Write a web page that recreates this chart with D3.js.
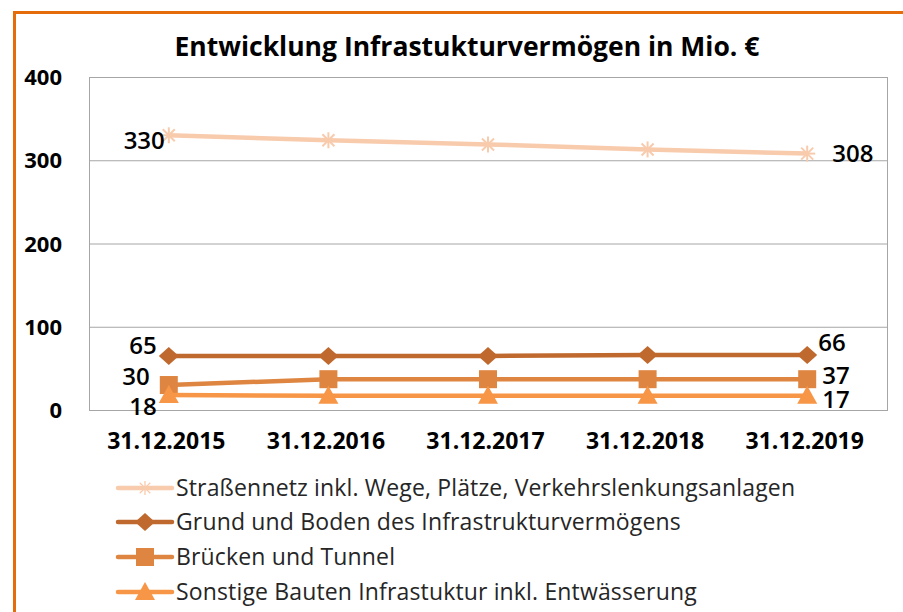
<!DOCTYPE html>
<html><head><meta charset="utf-8">
<script src="https://cdn.jsdelivr.net/npm/d3@7"></script>
<style>body{margin:0;background:#fff}svg{display:block}</style>
</head><body>
<svg id="c" width="903" height="612"></svg>
<script>
const categories = ["31.12.2015","31.12.2016","31.12.2017","31.12.2018","31.12.2019"];
const seriesNames = ["Straßennetz inkl. Wege, Plätze, Verkehrslenkungsanlagen","Grund und Boden des Infrastrukturvermögens","Brücken und Tunnel","Sonstige Bauten Infrastuktur inkl. Entwässerung"];
const strassen = [330, 324, 319, 313, 308];
const grund = [65, 65, 65, 66, 66];
const bruecken = [30, 37, 37, 37, 37];
const sonstige = [18, 17, 17, 17, 17];
const yTicks = [0, 100, 200, 300, 400];
const title = "Entwicklung Infrastukturvermögen in Mio. €";

const colors = ["#F8CBAD", "#C0692E", "#DE8641", "#F79646"];
const markers = ["star", "diamond", "square", "triangle"];
const data = [strassen, grund, bruecken, sonstige];

const svg = d3.select("#c");
const font = "'Open Sans', sans-serif";
const L = 89, R = 887, T = 77, B = 410;

// frame
svg.append("path").attr("d", "M14.5,612 L14.5,12.5 L903,12.5").attr("fill","none").attr("stroke","#E46C0A").attr("stroke-width",3);

const x = d3.scalePoint().domain(categories).range([L, R]).padding(0.5);
const y = d3.scaleLinear().domain([0, 400]).range([B, T]);

// gridlines
svg.append("g").selectAll("line").data(yTicks).join("line")
  .attr("x1", L).attr("x2", R).attr("y1", d => y(d)+0.5).attr("y2", d => y(d)+0.5)
  .attr("stroke", "#A6A6A6").attr("stroke-width", 1);
svg.append("rect").attr("x", L+0.5).attr("y", T+0.5).attr("width", R-L).attr("height", B-T)
  .attr("fill","none").attr("stroke","#A6A6A6");

// y axis labels
const yAxis = d3.axisLeft(y).tickValues(yTicks).tickSize(0).tickPadding(0);
const yg = svg.append("g").attr("transform", `translate(${L-27},0)`).call(yAxis);
yg.select(".domain").remove();
yg.selectAll("text").attr("font-family", font).attr("font-weight", "bold").attr("font-size", 22).attr("fill", "#000").attr("dy","0.35em");

// x axis labels
const xAxis = d3.axisBottom(x).tickSize(0).tickPadding(0);
const xg = svg.append("g").attr("transform", `translate(-3,${B+23})`).call(xAxis);
xg.select(".domain").remove();
xg.selectAll("text").attr("font-family", font).attr("font-weight", "bold").attr("font-size", 23).attr("fill", "#000").attr("dy","0.71em");

// title
svg.append("text").attr("x", 467).attr("y", 56).attr("text-anchor","middle")
  .attr("font-family", font).attr("font-weight","bold").attr("font-size", 26.5).attr("fill","#000").text(title);

function drawMarker(g, type, cx, cy, color, small) {
  if (type === "star") {
    const s = small ? 7 : 8;
    const p = g.append("g").attr("stroke", color).attr("stroke-width", small ? 1.3 : 2);
    p.append("line").attr("x1", cx - s).attr("x2", cx + s).attr("y1", cy).attr("y2", cy);
    p.append("line").attr("x1", cx).attr("x2", cx).attr("y1", cy - s).attr("y2", cy + s);
    p.append("line").attr("x1", cx - s*0.75).attr("x2", cx + s*0.75).attr("y1", cy - s*0.75).attr("y2", cy + s*0.75);
    p.append("line").attr("x1", cx - s*0.75).attr("x2", cx + s*0.75).attr("y1", cy + s*0.75).attr("y2", cy - s*0.75);
  } else if (type === "diamond") {
    const s = 10, h = 9;
    g.append("path").attr("d", `M${cx},${cy-h} L${cx+s},${cy} L${cx},${cy+h} L${cx-s},${cy} Z`).attr("fill", color);
  } else if (type === "square") {
    const s = 9;
    g.append("rect").attr("x", cx-s).attr("y", cy-s).attr("width", 2*s).attr("height", 2*s).attr("fill", color);
  } else if (type === "triangle") {
    const s = 10;
    g.append("path").attr("d", `M${cx},${cy-s} L${cx+s},${cy+s*0.8} L${cx-s},${cy+s*0.8} Z`).attr("fill", color);
  }
}

const line = d3.line().x((d, i) => x(categories[i])).y(d => y(d));
data.forEach((vals, si) => {
  const g = svg.append("g");
  g.append("path").datum(vals).attr("d", line).attr("fill","none").attr("stroke", colors[si]).attr("stroke-width", 4.5);
  vals.forEach((v, i) => drawMarker(g, markers[si], x(categories[i]), y(v), colors[si], false));
});

// data labels (first and last)
const labelOffsets = [
  {l:[-4, 5], r:[25, 0]},
  {l:[-12, -10], r:[11, -12]},
  {l:[-19, -8], r:[15, -4]},
  {l:[-12, 12], r:[15, 4]}
];
data.forEach((vals, si) => {
  const n = vals.length;
  svg.append("text").attr("x", x(categories[0]) + labelOffsets[si].l[0]).attr("y", y(vals[0]) + labelOffsets[si].l[1])
    .attr("text-anchor","end").attr("dy","0.35em").attr("font-family", font).attr("font-size", 24).attr("font-weight", 600).attr("fill","#000").text(vals[0]);
  svg.append("text").attr("x", x(categories[n-1]) + labelOffsets[si].r[0]).attr("y", y(vals[n-1]) + labelOffsets[si].r[1])
    .attr("text-anchor","start").attr("dy","0.35em").attr("font-family", font).attr("font-size", 24).attr("font-weight", 600).attr("fill","#000").text(vals[n-1]);
});

// legend
const legY = [488, 522, 557, 592];
seriesNames.forEach((name, si) => {
  const g = svg.append("g");
  const cy = legY[si];
  g.append("line").attr("x1", 118).attr("x2", 172).attr("y1", cy).attr("y2", cy).attr("stroke", colors[si]).attr("stroke-width", 4.5).attr("stroke-linecap","round");
  drawMarker(g, markers[si], 145, cy, colors[si], true);
  g.append("text").attr("x", 176).attr("y", cy).attr("dy","0.35em").attr("font-family", font).attr("font-size", 23).attr("letter-spacing", 0.15).attr("fill","#262626").text(name);
});
</script>
</body></html>
